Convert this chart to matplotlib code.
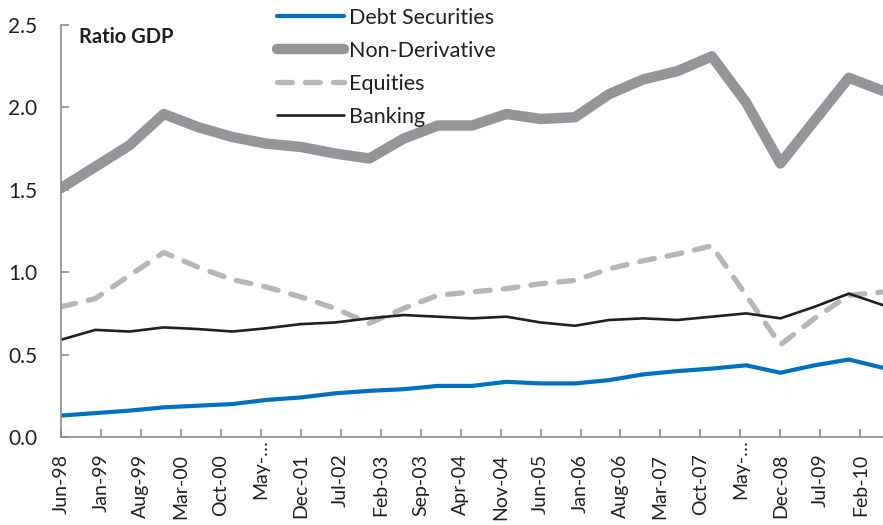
import matplotlib
matplotlib.use("Agg")
import matplotlib.pyplot as plt
import matplotlib.transforms as mtransforms
import pandas as pd

plt.rcParams['font.family'] = ['Lato', 'DejaVu Sans']

# Semi-annual observations, Jun-98 .. Jun-10 (ratio to GDP)
periods = pd.date_range('1998-06-01', '2010-06-01', freq='6MS')

debt_securities = [0.13, 0.145, 0.16, 0.18, 0.19, 0.20, 0.225, 0.24, 0.265, 0.28,
                   0.29, 0.31, 0.31, 0.335, 0.325, 0.325, 0.345, 0.38, 0.40, 0.415,
                   0.435, 0.39, 0.435, 0.47, 0.42]
non_derivative = [1.51, 1.64, 1.77, 1.96, 1.88, 1.82, 1.78, 1.76, 1.72, 1.69,
                  1.81, 1.89, 1.89, 1.96, 1.93, 1.94, 2.08, 2.17, 2.22, 2.31,
                  2.03, 1.66, 1.92, 2.18, 2.10]
equities = [0.79, 0.84, 0.98, 1.12, 1.03, 0.955, 0.91, 0.85, 0.78, 0.69,
            0.78, 0.86, 0.88, 0.90, 0.93, 0.95, 1.02, 1.07, 1.11, 1.16,
            0.86, 0.56, 0.72, 0.86, 0.88]
banking = [0.59, 0.65, 0.64, 0.665, 0.655, 0.64, 0.66, 0.685, 0.695, 0.72,
           0.74, 0.73, 0.72, 0.73, 0.695, 0.675, 0.71, 0.72, 0.71, 0.73,
           0.75, 0.72, 0.79, 0.87, 0.80]

tick_dates = pd.date_range('1998-06-01', '2010-02-01', freq='7MS')
tick_labels = ['Jun-98', 'Jan-99', 'Aug-99', 'Mar-00', 'Oct-00', 'May-…', 'Dec-01',
               'Jul-02', 'Feb-03', 'Sep-03', 'Apr-04', 'Nov-04', 'Jun-05', 'Jan-06',
               'Aug-06', 'Mar-07', 'Oct-07', 'May-…', 'Dec-08', 'Jul-09', 'Feb-10']

axis_grey = '#8c8c8c'
text_col = '#231f20'

fig = plt.figure(figsize=(8.83, 5.25), dpi=100)
ax = fig.add_axes([61 / 883, 88 / 525, 822 / 883, 412 / 525])

ax.plot(periods, debt_securities, color='#0070c0', lw=3.0,
        solid_capstyle='round', solid_joinstyle='round', label='Debt Securities')
ax.plot(periods, non_derivative, color='#939598', lw=7.5,
        solid_capstyle='round', solid_joinstyle='round', label='Non-Derivative')
ax.plot(periods, equities, color='#b5b6b8', lw=3.8, dashes=(2.8, 2.5),
        dash_capstyle='round', dash_joinstyle='round', label='Equities')
ax.plot(periods, banking, color=text_col, lw=1.9,
        solid_capstyle='round', solid_joinstyle='round', label='Banking')

ax.set_xlim(periods[0], periods[-1])
ax.set_ylim(0, 2.5)
ax.set_yticks([0, 0.5, 1.0, 1.5, 2.0, 2.5])
ax.set_yticklabels(['0.0', '0.5', '1.0', '1.5', '2.0', '2.5'])
ax.set_xticks(tick_dates)
ax.set_xticklabels(tick_labels, rotation=90)

for side in ['top', 'right']:
    ax.spines[side].set_visible(False)
for side in ['left', 'bottom']:
    ax.spines[side].set_color(axis_grey)
    ax.spines[side].set_linewidth(1.2)
ax.tick_params(axis='both', direction='in', length=6, width=1.2, color=axis_grey,
               labelcolor=text_col)
ax.tick_params(axis='y', pad=17, labelsize=15)
ax.tick_params(axis='x', pad=12, labelsize=14)

# the truncated May labels sit closer to the axis
for lbl in ax.get_xticklabels():
    if lbl.get_text().startswith('May'):
        lbl.set_transform(lbl.get_transform() +
                          mtransforms.ScaledTranslation(0, 14 / 100, fig.dpi_scale_trans))

ax.text(0.022, 0.97, 'Ratio GDP', transform=ax.transAxes, fontsize=14.5,
        fontweight='bold', color=text_col, va='center', ha='left')

leg = fig.legend(loc='upper left', bbox_to_anchor=(277 / 883, 1 - 8 / 525),
                 frameon=False, fontsize=15.5, handlelength=3.1, handletextpad=0.25,
                 labelspacing=0.6, borderpad=0, borderaxespad=0)
for txt in leg.get_texts():
    txt.set_color(text_col)

fig.savefig('out.png', dpi=100)
